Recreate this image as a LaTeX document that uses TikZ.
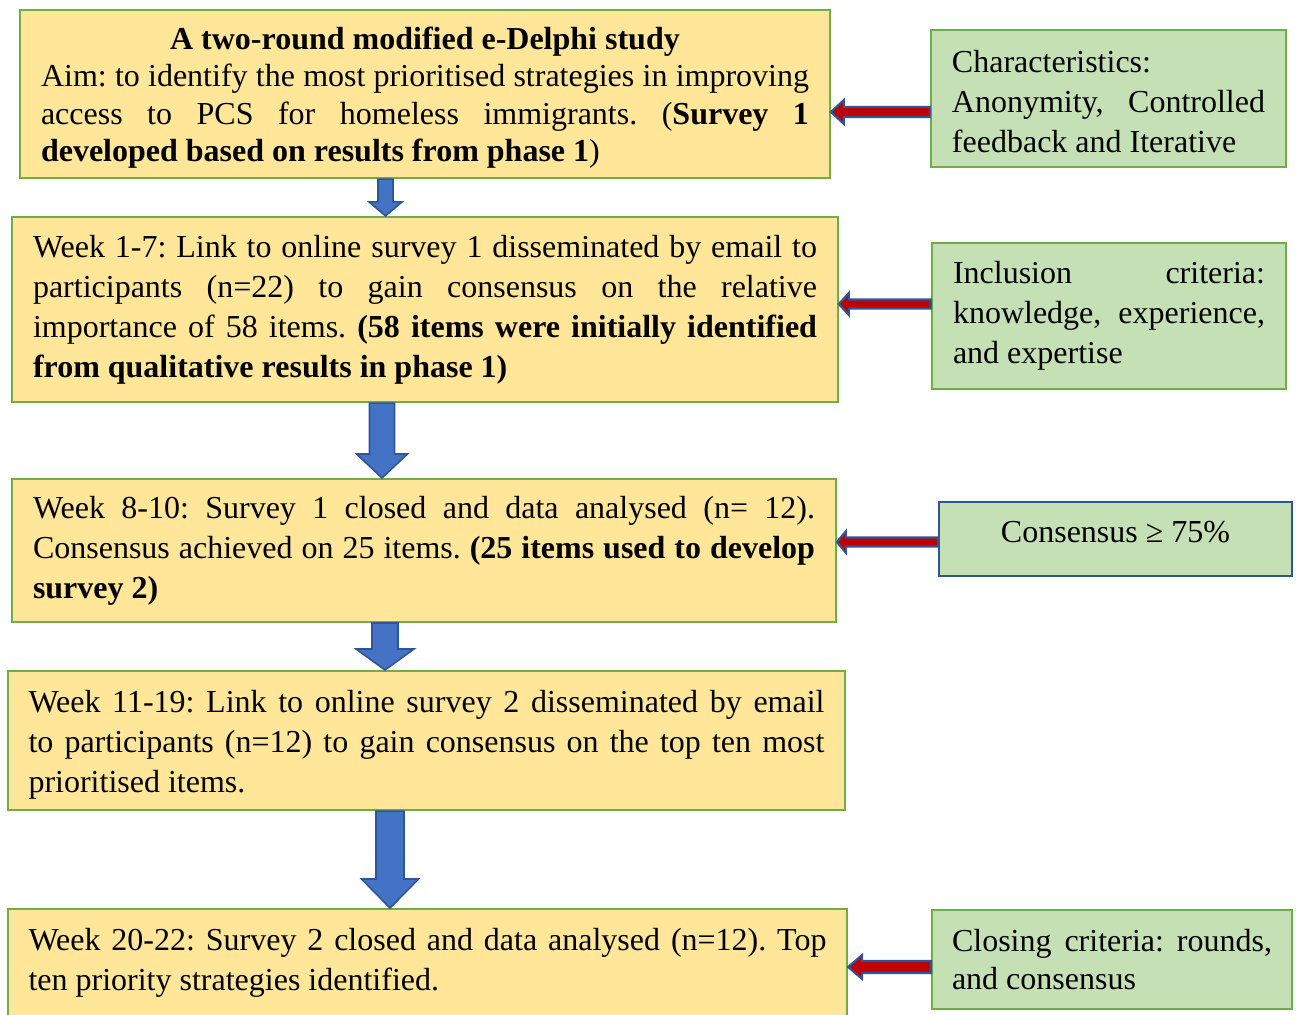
\documentclass[tikz,border=0pt]{standalone}
\usepackage{fontspec}
\setmainfont{Liberation Serif}
\usetikzlibrary{calc}
\setlength{\parindent}{0pt}
\frenchspacing
\hyphenpenalty=10000
\exhyphenpenalty=10000
\definecolor{stagefill}{HTML}{FFE699}
\definecolor{notefill}{HTML}{C5E0B4}
\definecolor{boxgreen}{HTML}{70AD47}
\definecolor{arrowblue}{HTML}{4472C4}
\definecolor{edgeblue}{HTML}{2F5597}
\definecolor{arrowred}{HTML}{C00000}
\newcommand{\pxu}{0.375pt}
% block arrow pointing down: style, start, end, shaft half, head half, head length (px)
\newcommand{\downblock}[6]{\draw[#1] let \p1=(#2), \p2=(#3) in
    (\x1-#4*\pxu,\y1) -- (\x1+#4*\pxu,\y1) -- (\x1+#4*\pxu,\y2+#6*\pxu)
    -- (\x1+#5*\pxu,\y2+#6*\pxu) -- (\x1,\y2) -- (\x1-#5*\pxu,\y2+#6*\pxu)
    -- (\x1-#4*\pxu,\y2+#6*\pxu) -- cycle;}
% block arrow pointing left: style, start, end, shaft half, head half, head length (px)
\newcommand{\leftblock}[6]{\draw[#1] let \p1=(#2), \p2=(#3) in
    (\x1,\y1-#4*\pxu) -- (\x1,\y1+#4*\pxu) -- (\x2+#6*\pxu,\y1+#4*\pxu)
    -- (\x2+#6*\pxu,\y1+#5*\pxu) -- (\x2,\y1) -- (\x2+#6*\pxu,\y1-#5*\pxu)
    -- (\x2+#6*\pxu,\y1-#4*\pxu) -- cycle;}

\begin{document}
\begin{tikzpicture}[
    x=0.375pt, y=-0.375pt,
    font=\fontsize{12}{15}\selectfont,
    stage/.style={draw=boxgreen, fill=stagefill, line width=0.8pt,
        align=justify, inner xsep=7.8pt, inner ysep=2pt},
    note/.style={draw=boxgreen, fill=notefill, line width=0.8pt,
        align=justify, inner xsep=7.8pt, inner ysep=2pt},
    flowdown/.style={draw=edgeblue, fill=arrowblue, line width=0.6pt},
    flowleft/.style={draw=edgeblue, fill=arrowred, line width=0.8pt}
]
\useasboundingbox (0,0) rectangle (1296,1014);
\node[stage, text width=288pt, minimum height=63pt,
    font=\fontsize{12}{13.9}\selectfont] (b1) at (425,94)
    {{\centering\bfseries\rule{0pt}{11.2pt}A two-round modified e-Delphi study\par}
     Aim: to identify the most prioritised strategies in improving
     access to PCS for homeless immigrants. (\textbf{Survey 1
     developed based on results from phase 1})};
\node[stage, text width=294pt, minimum height=69.4pt] (b2) at (425,309.5)
    {Week 1-7: Link to online survey 1 disseminated by email to\linebreak
     participants (n=22) to gain consensus on the relative importance
     of 58 items. \textbf{(58 items were initially identified from
     qualitative results in phase 1)}};
\node[stage, text width=293.25pt, minimum height=53.6pt] (b3) at (424,550.5)
    {Week 8-10: Survey 1 closed and data analysed (n= 12). Consensus
     achieved on 25 items. \textbf{(25 items used to develop survey 2)}};
\node[stage, text width=298.5pt, minimum height=52.1pt, inner xsep=7.7pt]
    (b4) at (426.5,740.5)
    {\rule{0pt}{11.2pt}Week 11-19: Link to online survey 2 disseminated by email to
     participants (n=12) to gain consensus on the top ten most
     prioritised items.};
\node[stage, text width=299.25pt, inner xsep=7.7pt, inner ysep=7.3pt,
    anchor=north] (b5) at (427.5,908)
    {Week 20-22: Survey 2 closed and data analysed (n=12). Top ten
     priority strategies identified.\par\rule{0pt}{30pt}};
\node[note, text width=117.4pt, minimum height=51.4pt] (r1) at (1108.5,98.5)
    {\rule{0pt}{10.5pt}Characteristics:\\
     Anonymity, Controlled feedback and Iterative};
\node[note, text width=117pt, minimum height=54.75pt] (r2) at (1109,316)
    {Inclusion criteria: knowledge, experience, and expertise};
\node[note, draw=edgeblue, align=center, minimum width=132.4pt,
    minimum height=27.75pt, text depth=5pt] (r3) at (1115.5,539)
    {Consensus ≥ 75\%};
\node[note, text width=120pt, minimum height=37.1pt, inner xsep=7.5pt,
    font=\fontsize{12}{13.9}\selectfont] (r4) at (1112,959.5)
    {Closing criteria: rounds, and consensus};
\downblock{flowdown}{[xshift=-14.81pt]b1.south}{b2.north}{7.5}{16.5}{14}
\downblock{flowdown}{[xshift=-16.13pt]b2.south}{b3.north}{12.5}{25.5}{24}
\downblock{flowdown}{[xshift=-14.63pt]b3.south}{b4.north}{13}{29}{21}
\downblock{flowdown}{[xshift=-13.69pt]b4.south}{b5.north}{14}{28.5}{29}
\leftblock{flowleft}{[yshift=-5.06pt]r1.west}{b1.east}{5}{12}{13}
\leftblock{flowleft}{[yshift=4.5pt]r2.west}{b2.east}{4.5}{11}{10}
\leftblock{flowleft}{[yshift=-1.13pt]r3.west}{b3.east}{4.5}{10.7}{9}
\leftblock{flowleft}{[yshift=-2.81pt]r4.west}{b5.east}{6}{12}{14}
\end{tikzpicture}
\end{document}
